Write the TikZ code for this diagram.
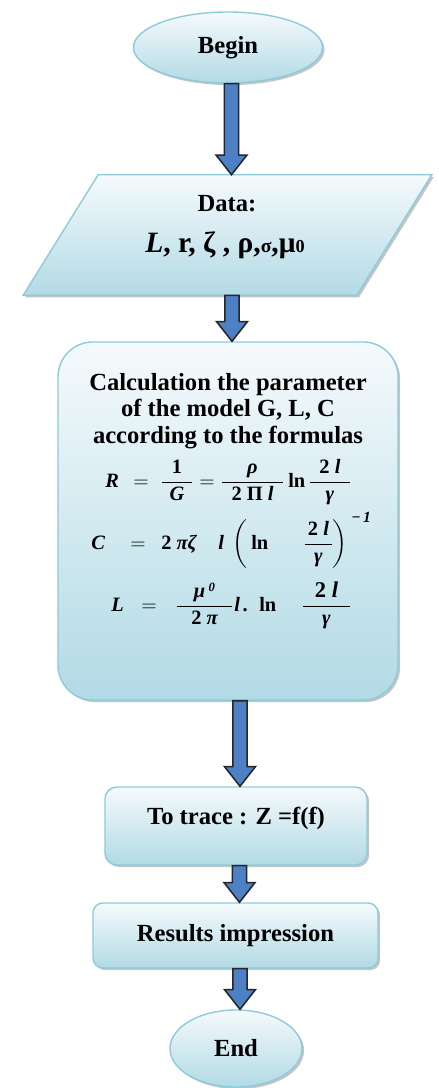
\documentclass[tikz,border=0pt]{standalone}
\usepackage{fontspec}
\setmainfont{Liberation Serif}
\usepackage{amsmath}
\usetikzlibrary{positioning,calc,shapes.geometric,shadows}

\definecolor{boxline}{HTML}{8DCBDB}
\definecolor{boxtop}{HTML}{F5FAFC}
\definecolor{boxbot}{HTML}{B2DAE5}
\definecolor{arrowblue}{HTML}{4E80C6}

% one pixel of the layout grid
\newlength{\pxu}\setlength{\pxu}{0.025cm}
\newcommand{\putat}[2]{\rlap{\hspace*{#1\pxu}#2}}
\newcommand{\fr}[3]{\dfrac{\makebox[#3\pxu]{#1}}{\makebox[#3\pxu]{#2}}}
\newcommand{\boxfont}{\fontsize{17.5}{18.8}\selectfont\bfseries}

\tikzset{
  flowbox/.style={draw=boxline, line width=1pt, top color=boxtop, bottom color=boxbot,
    drop shadow={shadow xshift=1.5pt, shadow yshift=-1.5pt, fill=black!45}, inner sep=0pt},
  termbox/.style={flowbox, ellipse, font=\boxfont},
  procbox/.style={flowbox, rectangle, rounded corners=#1, font=\boxfont},
  procbox/.default=8pt,
  formula/.style={inner sep=0pt, anchor=base west, font=\fontsize{14.5}{16}\selectfont\bfseries\itshape},
  blockarrow/.style={fill=arrowblue, draw=black!85, line width=1.1pt, line join=miter}
}

% block arrow from one node down to the next
\newcommand{\flowarrow}[2]{%
  \draw[blockarrow] let \p1=(#1.south), \p2=($(#2.north)+(4,0)$) in
    (\x2-5pt,\y1) -- (\x2-5pt,\y2+14pt) -- (\x2-11pt,\y2+14pt) -- (\x2,\y2)
    -- (\x2+11pt,\y2+14pt) -- (\x2+5pt,\y2+14pt) -- (\x2+5pt,\y1) -- cycle;}

\begin{document}
\begin{tikzpicture}[x=0.025cm, y=-0.025cm]
  \fill[white] (0,0) rectangle (439,1088);
  \useasboundingbox (0,0) rectangle (439,1088);

  % Begin
  \node[termbox, minimum width=4.725cm, minimum height=1.775cm] (begin) at (228,47.5) {Begin};

  % Data
  \node[minimum width=8.325cm, minimum height=3cm, inner sep=0pt] (data) at (227.5,235) {};
  \draw[flowbox] ($(data.north west)+(37.5,0)$) -- ($(data.north east)+(37.5,0)$)
    -- ($(data.south east)+(-37.5,0)$) -- ($(data.south west)+(-37.5,0)$) -- cycle;
  \node[font=\boxfont, anchor=base, inner sep=0pt] (datahead) at (227,211) {Data:};
  \node[font=\boxfont, anchor=base, inner sep=0pt] (datavars) at (225,252)
    {\fontsize{21}{24}\selectfont\textit{L}, r, ζ , ρ,{\fontsize{14}{14}\selectfont σ},μ{\fontsize{13}{13}\selectfont 0}};

  % Calculation
  \node[procbox=0.875cm, minimum width=8.5cm, minimum height=8.95cm] (calc) at (228,521) {};
  \node[font=\boxfont, align=center, anchor=north, inner sep=0pt] (calctitle) at (228,373)
    {Calculation the parameter\\of the model G, L, C\\according to the formulas};

  \node[formula] (eqR) at (0,487) {%
    \putat{105}{R}\putat{133}{$=$}\putat{160}{$\fr{\upshape 1}{G}{30}$}\putat{199}{$=$}%
    \putat{220}{$\fr{ρ}{\upshape 2 Π \itshape l}{61}$}\putat{288}{\upshape ln}%
    \putat{308}{$\fr{\upshape 2 \itshape l}{γ}{40}$}\hspace*{439\pxu}};
  \node[formula] (eqC) at (0,549) {%
    \putat{91}{C}\putat{130}{$=$}\putat{161}{\upshape 2 \itshape πζ}\putat{218}{l}%
    \putat{232}{$\left(\vrule height 20pt depth 13pt width 0pt\right.$}%
    \putat{251}{\upshape ln}\putat{303}{$\fr{\upshape 2 \itshape l}{γ}{27}$}%
    \putat{331}{$\left.\vrule height 20pt depth 13pt width 0pt\right)$}%
    \putat{351}{\raisebox{19pt}{\fontsize{11}{12}\selectfont −\,1}}\hspace*{439\pxu}};
  \node[formula] (eqL) at (0,611) {%
    \putat{111}{L}\putat{141}{$=$}%
    \putat{175}{$\fr{μ\,\raisebox{4pt}{\fontsize{9}{9}\selectfont 0}}{\upshape 2 \itshape π}{55}$}%
    \putat{234}{l\,.}\putat{259}{\upshape ln}%
    \putat{301}{$\fr{\fontsize{16}{16}\selectfont\upshape 2 \itshape l}{γ}{47}$}\hspace*{439\pxu}};

  % Trace, results, end
  \node[procbox=0.3cm, minimum width=6.55cm, minimum height=1.95cm,
        text height=12pt, text depth=13.5pt] (trace) at (236,826) {To trace : Z =f(f)};
  \node[procbox=0.25cm, minimum width=7.125cm, minimum height=1.625cm] (results) at (235.5,935.5) {Results impression};
  \node[termbox, minimum width=3.3cm, minimum height=1.925cm] (finish) at (236,1048.5) {End};

  % Arrows
  \foreach \src/\dst in {begin/data, data/calc, calc/trace, trace/results, results/finish}
    {\flowarrow{\src}{\dst}}
\end{tikzpicture}
\end{document}
